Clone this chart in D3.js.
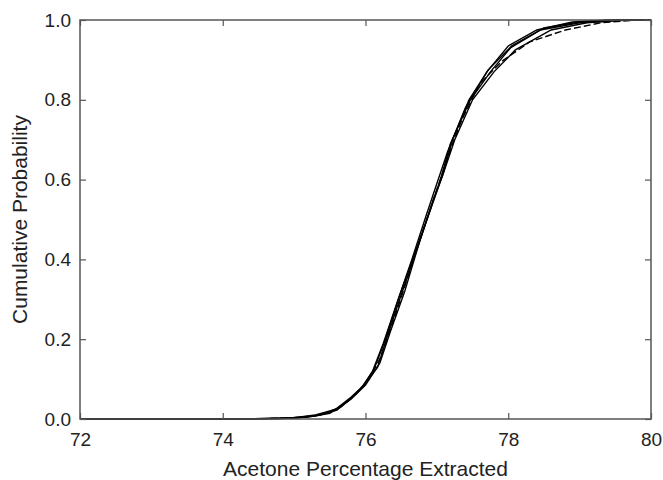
<!DOCTYPE html>
<html>
<head>
<meta charset="utf-8">
<script src="https://cdn.jsdelivr.net/npm/d3@7"></script>
<style>
  body { margin: 0; background: #fff; }
  text { font-family: "Liberation Sans", Arial, sans-serif; }
</style>
</head>
<body>
<svg id="chart" width="663" height="480"></svg>
<script>
// x ticks and y ticks
var xTicks = [72, 74, 76, 78, 80];
var yTicks = [0, 0.2, 0.4, 0.6, 0.8, 1.0];

// several simulation runs
var run1X = [72, 74, 74.8, 75.2, 75.5, 75.75, 75.9, 76.0, 76.17, 76.31, 76.48, 76.73, 76.9, 77.05, 77.19, 77.47, 77.75, 78.03, 78.5, 79.0, 79.5, 80];
var run1Y = [0, 0, 0.001, 0.005, 0.014, 0.045, 0.068, 0.09, 0.13, 0.21, 0.30, 0.43, 0.52, 0.60, 0.69, 0.80, 0.87, 0.93, 0.98, 0.995, 1, 1];

var run2X = [72, 74.2, 75.0, 75.3, 75.6, 75.8, 76.0, 76.2, 76.35, 76.55, 76.75, 76.95, 77.1, 77.25, 77.5, 77.8, 78.1, 78.6, 79.1, 79.6, 80];
var run2Y = [0, 0, 0.003, 0.01, 0.025, 0.05, 0.085, 0.14, 0.22, 0.32, 0.44, 0.55, 0.62, 0.70, 0.80, 0.87, 0.925, 0.975, 0.993, 1, 1];

var run3X = [72, 74.0, 74.9, 75.3, 75.55, 75.8, 75.95, 76.1, 76.25, 76.42, 76.65, 76.85, 77.0, 77.15, 77.4, 77.7, 78.0, 78.4, 78.9, 79.4, 80];
var run3Y = [0, 0, 0.002, 0.008, 0.02, 0.055, 0.08, 0.12, 0.19, 0.28, 0.40, 0.51, 0.59, 0.67, 0.78, 0.87, 0.935, 0.975, 0.995, 1, 1];

var run4X = [72, 74.5, 75.1, 75.4, 75.65, 75.85, 76.05, 76.2, 76.4, 76.6, 76.8, 77.0, 77.2, 77.35, 77.6, 77.9, 78.3, 78.8, 79.3, 79.8, 80];
var run4Y = [0, 0, 0.004, 0.012, 0.03, 0.06, 0.1, 0.15, 0.25, 0.36, 0.47, 0.575, 0.68, 0.75, 0.84, 0.895, 0.945, 0.975, 0.993, 1, 1];

var run5X = [72, 74.3, 75.0, 75.35, 75.6, 75.78, 75.98, 76.12, 76.28, 76.46, 76.7, 76.92, 77.08, 77.22, 77.45, 77.72, 78.05, 78.45, 79.0, 79.7, 80];
var run5Y = [0, 0, 0.002, 0.009, 0.022, 0.048, 0.085, 0.125, 0.2, 0.3, 0.42, 0.53, 0.61, 0.7, 0.8, 0.875, 0.935, 0.975, 0.993, 1, 1];

var runs = [
  {x: run1X, y: run1Y, dash: null},
  {x: run2X, y: run2Y, dash: null},
  {x: run3X, y: run3Y, dash: null},
  {x: run4X, y: run4Y, dash: "7,3"},
  {x: run5X, y: run5Y, dash: null}
];

var margin = {top: 20, right: 12, bottom: 61, left: 80};
var svg = d3.select("#chart");
var w = 663 - margin.left - margin.right;
var h = 480 - margin.top - margin.bottom;
var g = svg.append("g").attr("transform", "translate(" + margin.left + "," + margin.top + ")");

var x = d3.scaleLinear().domain([72, 80]).range([0, w]);
var y = d3.scaleLinear().domain([0, 1]).range([h, 0]);

var line = d3.line()
  .x(function(d) { return x(d[0]); })
  .y(function(d) { return y(d[1]); });

runs.forEach(function(r) {
  var pts = r.x.map(function(v, i) { return [v, r.y[i]]; });
  g.append("path")
    .attr("d", line(pts))
    .attr("fill", "none")
    .attr("stroke", "#000")
    .attr("stroke-width", 1.4)
    .attr("stroke-dasharray", r.dash);
});

// frame with inward ticks on all four sides
var axisColor = "#555";
function styleAxis(sel) {
  sel.select(".domain").remove();
  sel.selectAll(".tick line").attr("stroke", axisColor).attr("stroke-width", 1.2);
  sel.selectAll(".tick text").attr("fill", "#222").style("font-size", "19px");
}

g.append("g").attr("transform", "translate(0," + h + ")")
  .call(d3.axisBottom(x).tickValues(xTicks).tickSizeInner(-6).tickPadding(14).tickFormat(d3.format("d")))
  .call(styleAxis);
g.append("g")
  .call(d3.axisTop(x).tickValues(xTicks).tickSizeInner(-6).tickFormat(""))
  .call(styleAxis);
g.append("g")
  .call(d3.axisLeft(y).tickValues(yTicks).tickSizeInner(-6).tickPadding(9).tickFormat(d3.format(".1f")))
  .call(styleAxis);
g.append("g").attr("transform", "translate(" + w + ",0)")
  .call(d3.axisRight(y).tickValues(yTicks).tickSizeInner(-6).tickFormat(""))
  .call(styleAxis);

g.append("rect")
  .attr("width", w).attr("height", h)
  .attr("fill", "none")
  .attr("stroke", axisColor)
  .attr("stroke-width", 1.5);

svg.append("text")
  .attr("x", margin.left + w / 2)
  .attr("y", 476)
  .attr("text-anchor", "middle")
  .attr("fill", "#222")
  .style("font-size", "21px")
  .text("Acetone Percentage Extracted");

svg.append("text")
  .attr("transform", "translate(27," + (margin.top + h / 2) + ") rotate(-90)")
  .attr("text-anchor", "middle")
  .attr("fill", "#222")
  .style("font-size", "21px")
  .text("Cumulative Probability");
</script>
</body>
</html>
